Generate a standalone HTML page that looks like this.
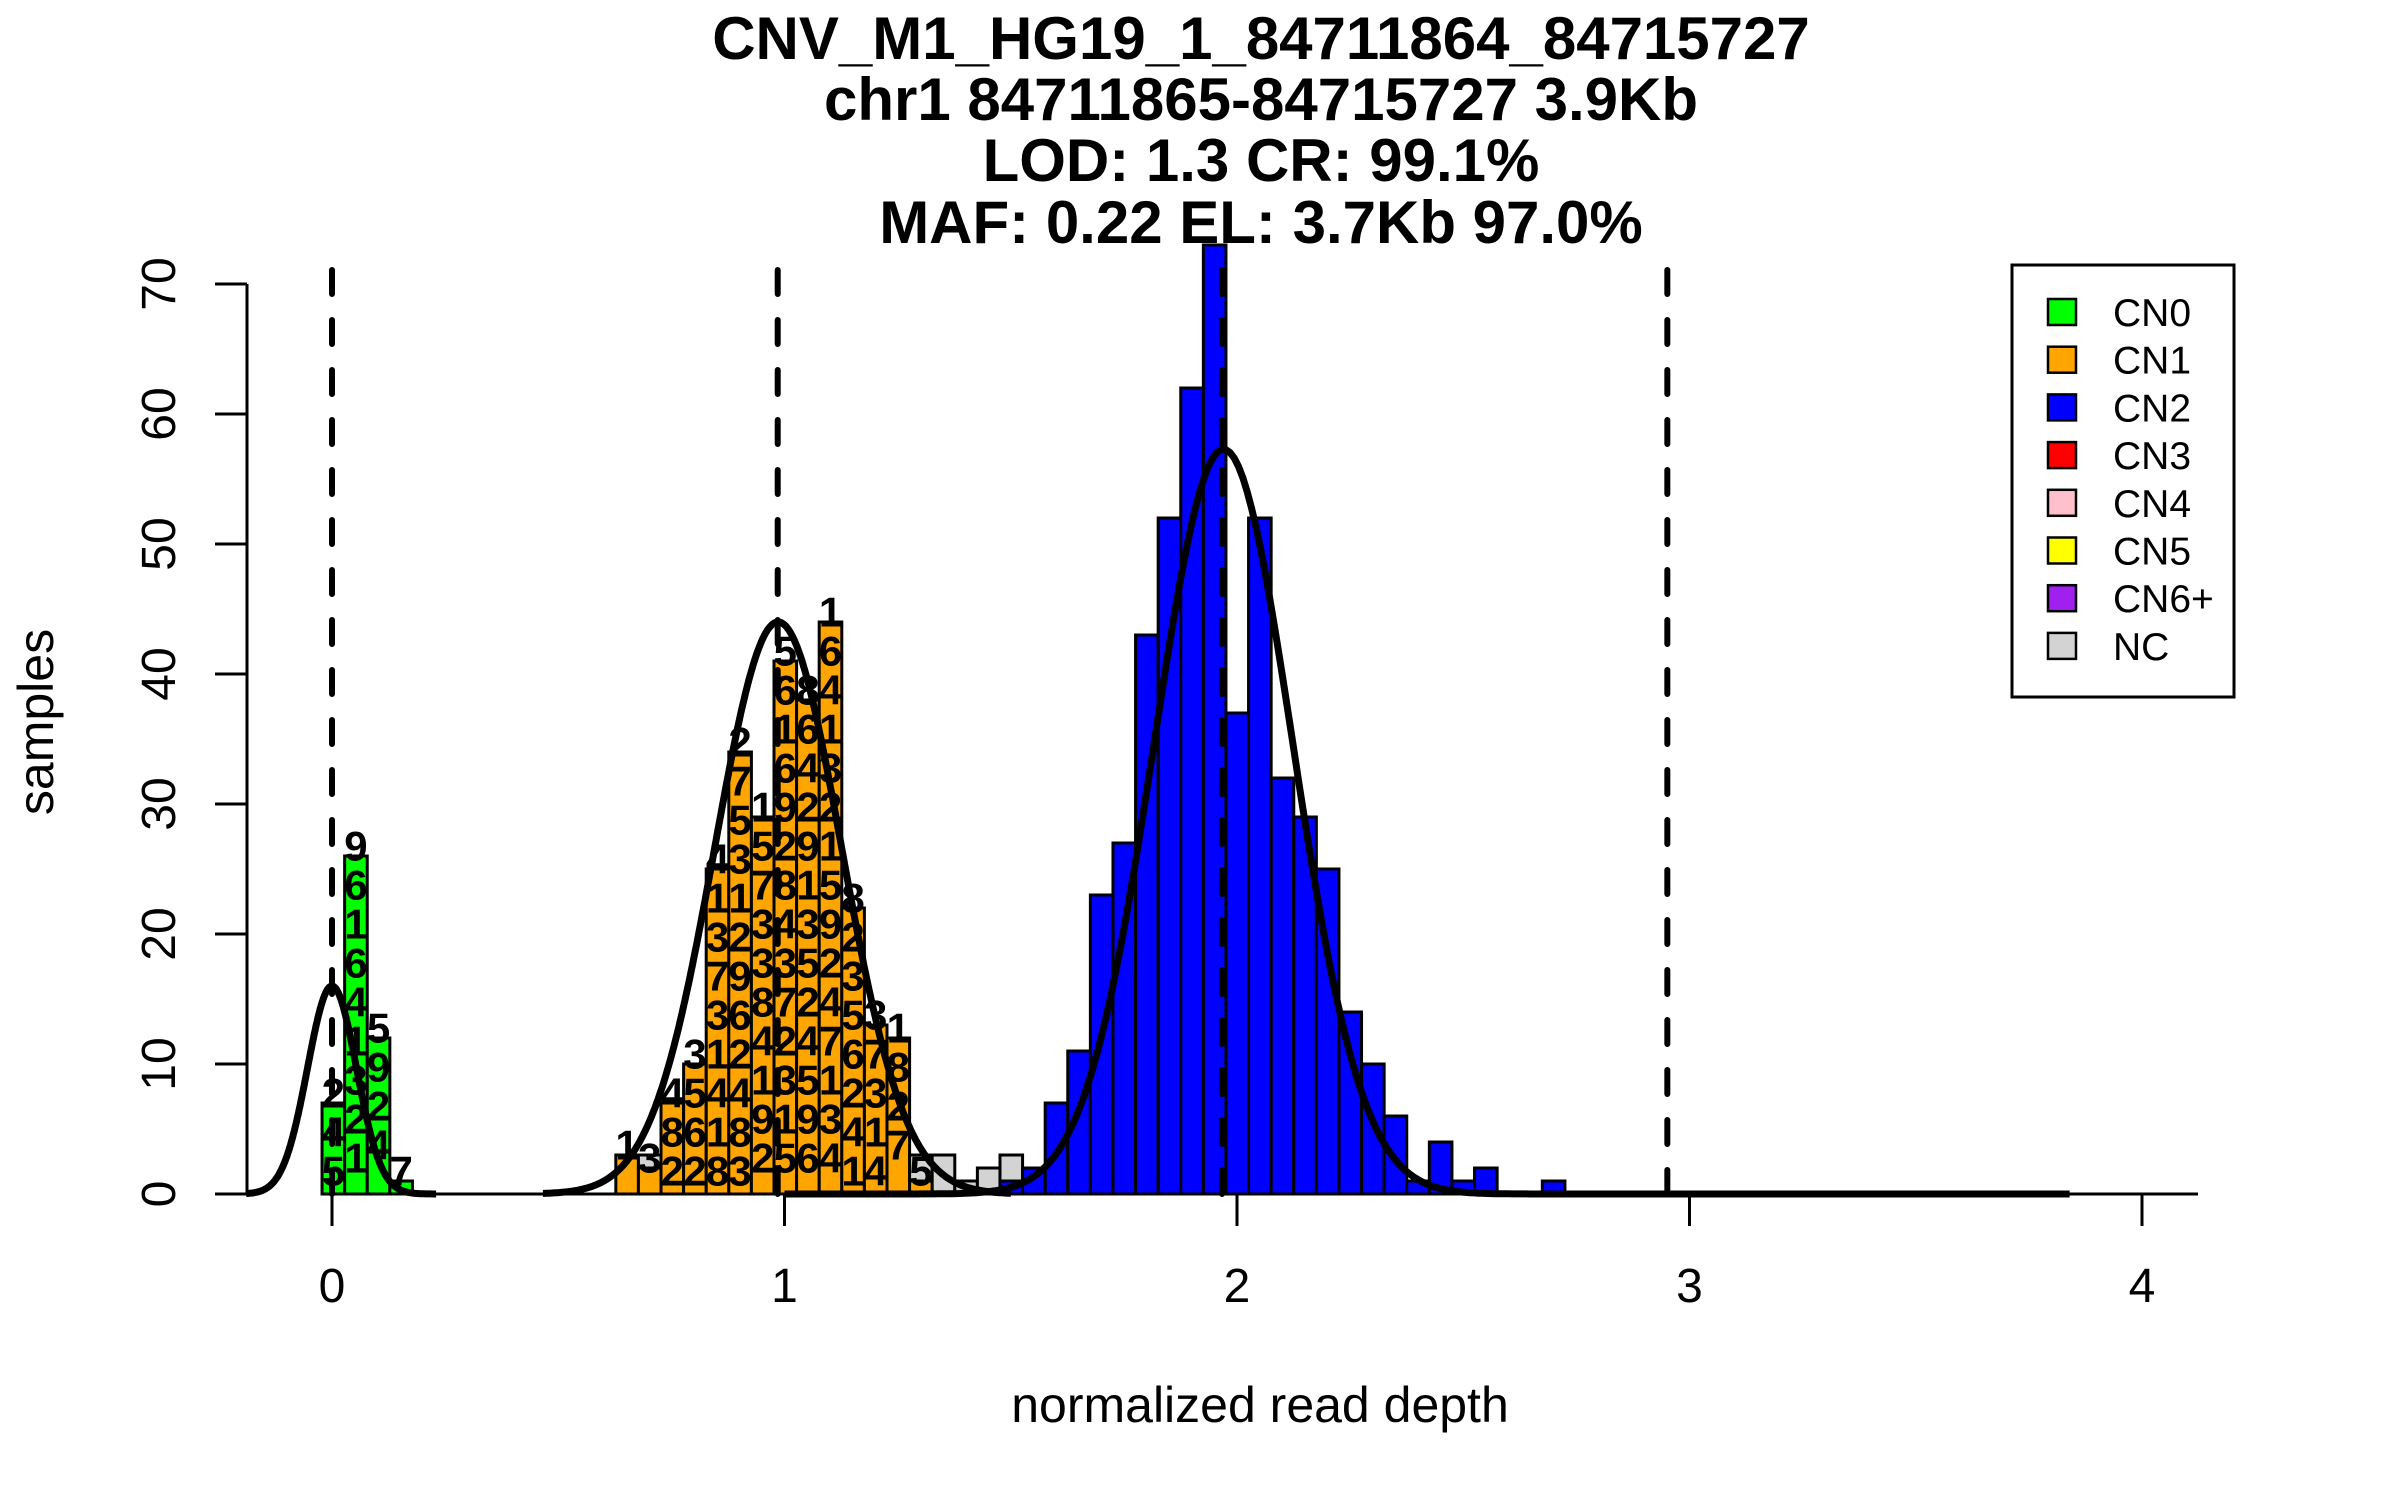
<!DOCTYPE html>
<html><head><meta charset="utf-8"><style>
html,body{margin:0;padding:0;background:#fff;}
svg{display:block;font-family:"Liberation Sans",Arial,sans-serif;}
</style></head><body>
<svg id="chart" width="2400" height="1500" viewBox="0 0 2400 1500" xmlns="http://www.w3.org/2000/svg">
<rect width="2400" height="1500" fill="#fff"/>
<g font-weight="bold" font-size="60" text-anchor="middle">
<text x="1261" y="59">CNV_M1_HG19_1_84711864_84715727</text>
<text x="1261" y="120">chr1 84711865-84715727 3.9Kb</text>
<text x="1261" y="181">LOD: 1.3 CR: 99.1%</text>
<text x="1261" y="243">MAF: 0.22 EL: 3.7Kb 97.0%</text>
</g>
<g id="bars"></g>
<g id="barlabels" font-weight="bold" font-size="42" text-anchor="middle"></g>
<g id="curves"></g>
<g id="dashes"></g>
<g id="axes"></g>
<text x="1260" y="1422" font-size="50" text-anchor="middle">normalized read depth</text>
<text transform="translate(53,722) rotate(-90)" font-size="50" text-anchor="middle">samples</text>
<g id="legend"></g>
</svg>
<script>
const binStart = -0.022;
const binWidth = 0.04994;
const greenCounts  = [7,26,12,1];
const orangeCounts = {13:3,14:2,15:7,16:10,17:25,18:34,19:29,20:41,21:38,22:44,23:22,24:13,25:12,26:1};
const grayCounts   = {14:1,26:2,27:3,28:1,29:2,30:2};
const blueCounts   = {30:1,31:2,32:7,33:11,34:23,35:27,36:43,37:52,38:62,39:73,40:37,41:52,42:32,43:29,44:25,45:14,46:10,47:6,48:1,49:4,50:1,51:2,54:1};
const lastBin = 77;
const xTicks = [0,1,2,3,4];
const yTicks = [0,10,20,30,40,50,60,70];
const cnLines = [0,0.985,1.967,2.951];
const compMeans = [0,0.986,1.97];
const compSds = [0.054,0.14,0.153];
const compPeaks = [16,44,57.3];
const compRanges = [[-0.19,0.23],[0.466,1.5],[1.0,3.84]];
const legendLabels = ["CN0","CN1","CN2","CN3","CN4","CN5","CN6+","NC"];
const legendColors = ["#00ff00","#ffa500","#0000ff","#ff0000","#ffc0cb","#ffff00","#a020f0","#d3d3d3"];
const labelDigits = "2459616413215924713482356241373141827531296248315733841925616928437231586429135";

const NS="http://www.w3.org/2000/svg";
const X = v => 332 + 452.5*v;
const Y = c => 1194 - 13*c;
function mk(tag, attrs, parent){const e=document.createElementNS(NS,tag);for(const k in attrs)e.setAttribute(k,attrs[k]);parent.appendChild(e);return e;}
const bars=document.getElementById('bars');
const labs=document.getElementById('barlabels');
let digitIdx=0;
for(let i=0;i<=lastBin;i++){
  const x0=X(binStart+i*binWidth), x1=X(binStart+(i+1)*binWidth);
  const segs=[];
  if(greenCounts[i]) segs.push(['#00ff00',greenCounts[i],'green']);
  if(orangeCounts[i]) segs.push(['#ffa500',orangeCounts[i],'orange']);
  if(blueCounts[i]) segs.push(['#0000ff',blueCounts[i],'blue']);
  if(grayCounts[i]) segs.push(['#d3d3d3',grayCounts[i],'gray']);
  let base=0;
  if(!segs.length){
    const l=mk('line',{x1:x0,x2:x1,y1:Y(0),y2:Y(0),stroke:'#000','stroke-width':3},bars);
    
    
  }
  for(const s of segs){
    const r=mk('rect',{x:x0,y:Y(base+s[1]),width:x1-x0,height:Y(base)-Y(base+s[1]),fill:s[0],stroke:'#000','stroke-width':3},bars);
    
    
    if(s[2]==='green'||s[2]==='orange'){
      for(let v=s[1]+0.8; v>=1.2; v-=3){
        const t=mk('text',{x:(x0+x1)/2,y:Y(base+v)+15},labs);
        t.textContent=labelDigits[digitIdx%labelDigits.length];digitIdx++;
        
        
      }
    }
    base+=s[1];
  }
}
mk('line',{x1:X(binStart),x2:2198,y1:1194,y2:1194,stroke:'#000','stroke-width':3},bars);
const curves=document.getElementById('curves');
compMeans.forEach((m,k)=>{
  const pts=[];const [a,b]=compRanges[k];
  for(let j=0;j<=300;j++){const v=a+(b-a)*j/300;const c=compPeaks[k]*Math.exp(-0.5*Math.pow((v-m)/compSds[k],2));pts.push(X(v).toFixed(1)+','+Y(c).toFixed(1));}
  const p=mk('polyline',{points:pts.join(' '),fill:'none',stroke:'#000','stroke-width':7,'stroke-linejoin':'round'},curves);
  
  
});
const dashes=document.getElementById('dashes');
cnLines.forEach((v,k)=>{
  const l=mk('line',{x1:X(v),x2:X(v),y1:270,y2:1194,stroke:'#000','stroke-width':6,'stroke-dasharray':'24 26','stroke-linecap':'round'},dashes);
  
  
});
const axes=document.getElementById('axes');
const ya=mk('line',{x1:247,x2:247,y1:Y(70),y2:Y(0),stroke:'#000','stroke-width':3},axes);


yTicks.forEach(t=>{
  const l=mk('line',{x1:215,x2:247,y1:Y(t),y2:Y(t),stroke:'#000','stroke-width':3},axes);
  
  
  const tx=mk('text',{transform:`translate(175,${Y(t)}) rotate(-90)`,'font-size':48,'text-anchor':'middle'},axes);
  tx.textContent=t;
  
  
});
xTicks.forEach(t=>{
  const l=mk('line',{x1:X(t),x2:X(t),y1:1194,y2:1226,stroke:'#000','stroke-width':3},axes);
  
  
  const tx=mk('text',{x:X(t),y:1302,'font-size':48,'text-anchor':'middle'},axes);
  tx.textContent=t;
  
  
});
const lg=document.getElementById('legend');
const box=mk('rect',{x:2012,y:265,width:222,height:432,fill:'#fff',stroke:'#000','stroke-width':3},lg);


legendLabels.forEach((lab,k)=>{
  const cy=312+k*47.7;
  const sq=mk('rect',{x:2048,y:cy-13,width:28,height:26,fill:legendColors[k],stroke:'#000','stroke-width':2.5},lg);
  
  
  const t=mk('text',{x:2113,y:cy+14,'font-size':39},lg);
  t.textContent=lab;
  
  
});
</script>
</body></html>
